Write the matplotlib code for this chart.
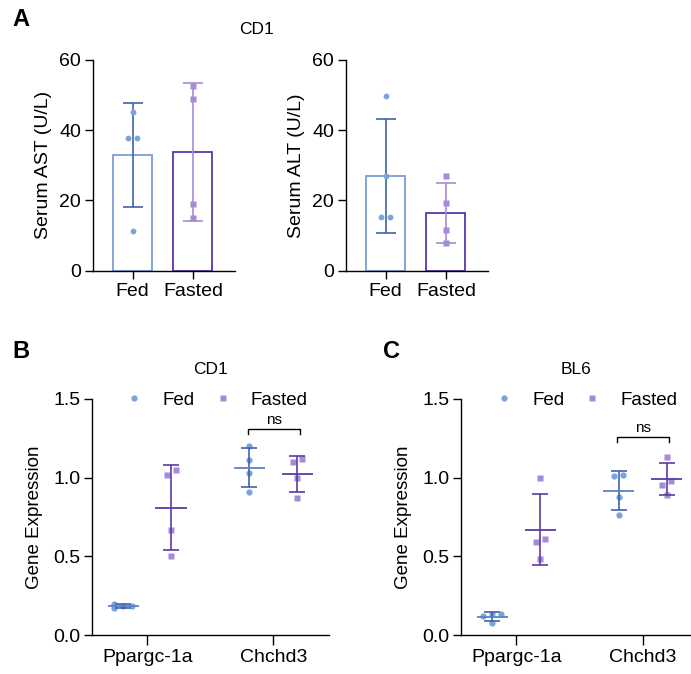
import numpy as np
import matplotlib
matplotlib.use('Agg')
import matplotlib.pyplot as plt
from matplotlib.lines import Line2D

plt.rcParams['font.family'] = ['Liberation Sans', 'DejaVu Sans']

# %% data
groups = ['Fed', 'Fasted']
ast_fed = [45.2, 37.7, 37.7, 11.3]
ast_fasted = [52.6, 48.9, 18.9, 15.0]
alt_fed = [49.8, 26.9, 15.4, 15.4]
alt_fasted = [26.9, 19.2, 11.5, 7.8]

genes = ['Ppargc-1a', 'Chchd3']
cd1_fed = [[0.17, 0.20, 0.185, 0.185], [1.20, 1.11, 1.03, 0.91]]
cd1_fasted = [[1.02, 1.05, 0.67, 0.50], [1.12, 1.10, 1.00, 0.87]]
bl6_fed = [[0.136, 0.121, 0.136, 0.074], [1.02, 1.01, 0.875, 0.76]]
bl6_fasted = [[1.00, 0.61, 0.59, 0.48], [1.13, 0.98, 0.955, 0.89]]
ns_y = {'CD1': 1.31, 'BL6': 1.26}

# colours
fed_pt = '#7aa3dc'
fed_line = '#3f63aa'
fed_mean = '#5b82bf'
fed_bar = '#7b9ed6'
fas_pt = '#a58bd8'
fas_line = '#5b3aa6'
fas_bar = '#5a36a8'

W, H = 691, 674
fig = plt.figure(figsize=(W / 100, H / 100), dpi=100)


def px_axes(l, t, r, b):
    return fig.add_axes([l / W, 1 - b / H, (r - l) / W, (b - t) / H])


def style(ax, fs_tick=14):
    for s in ['top', 'right']:
        ax.spines[s].set_visible(False)
    for s in ['left', 'bottom']:
        ax.spines[s].set_linewidth(1.0)
    ax.tick_params(axis='both', labelsize=fs_tick, width=1.0, length=5.5, pad=3)


def swarm(ax, x0, vals, tol=6, d=9):
    # spread points that sit on top of each other (max 3 columns)
    vals = np.asarray(vals, float)
    order = np.argsort(vals)
    ys = ax.transData.transform(np.c_[np.zeros(len(vals)), vals])[:, 1]
    xs = np.zeros(len(vals))
    grp = [order[0]]
    allg = []
    for i in order[1:]:
        if ys[i] - ys[grp[-1]] < tol:
            grp.append(i)
        else:
            allg.append(grp)
            grp = [i]
    allg.append(grp)
    for g in allg:
        n = min(len(g), 3)
        for k, i in enumerate(g):
            xs[i] = (k % 3 - (n - 1) / 2) * d
    px0 = ax.transData.transform((x0, 0))[0]
    inv = ax.transData.inverted()
    return np.array([inv.transform((px0 + dx, 0))[0] for dx in xs]), vals


def bar_panel(ax, fed, fasted, ylabel):
    ax.set_xlim(-0.66, 1.7)
    ax.set_ylim(0, 60)
    for i, (v, edge, ln, pc, mk) in enumerate([(fed, fed_bar, fed_line, fed_pt, 'o'),
                                               (fasted, fas_bar, fas_pt, fas_pt, 's')]):
        m = np.mean(v)
        sd = np.std(v, ddof=1)
        ax.bar(i, m, width=0.65, facecolor='white', edgecolor=edge, linewidth=1.3, zorder=1)
        ax.errorbar(i, m, yerr=sd, color=ln, capsize=7.5, elinewidth=1.2, capthick=1.2, zorder=2)
        xs, ys = swarm(ax, i, v)
        ax.plot(xs, ys, mk, color=pc, ms=4.2, mec='none', zorder=3, clip_on=False)
    ax.set_xticks([0, 1])
    ax.set_xticklabels(groups)
    ax.set_yticks([0, 20, 40, 60])
    ax.set_ylabel(ylabel, fontsize=14, labelpad=5)
    style(ax)


def gene_panel(ax, fed, fasted, title, xr, lx, nsy):
    ax.set_xlim(-0.438, xr)
    ax.set_ylim(0, 1.5)
    off = 0.19
    for j in range(len(genes)):
        for v, dx, ln, ml, pc, mk in [(fed[j], -off, fed_line, fed_mean, fed_pt, 'o'),
                                     (fasted[j], off, fas_line, fas_line, fas_pt, 's')]:
            x0 = j + dx
            m = np.mean(v)
            sd = np.std(v, ddof=1)
            xs, ys = swarm(ax, x0, v)
            ax.plot(xs, ys, mk, color=pc, ms=4.5, mec='none', zorder=2)
            ax.errorbar(x0, m, yerr=sd, fmt='none', ecolor=ln, capsize=5.5,
                        elinewidth=1.2, capthick=1.2, zorder=3)
            ax.hlines(m, x0 - 0.125, x0 + 0.125, color=ml, lw=1.3, zorder=3)
    # ns bracket on second gene
    x1, x2 = 1 - 0.205, 1 + 0.21
    h = 0.035
    ax.plot([x1, x1, x2, x2], [nsy - h, nsy, nsy, nsy - h], color='black', lw=1.0)
    ax.text((x1 + x2) / 2, nsy + 0.01, 'ns', ha='center', va='bottom', fontsize=11)
    ax.set_xticks(range(len(genes)))
    ax.set_xticklabels(genes)
    ax.set_yticks([0, 0.5, 1.0, 1.5])
    ax.set_yticklabels(['0.0', '0.5', '1.0', '1.5'])
    ax.set_ylabel('Gene Expression', fontsize=13.5, labelpad=7)
    style(ax)
    ax.tick_params(axis='x', length=7)
    hnd = [Line2D([], [], marker='o', ls='none', color=fed_pt, mec='none', ms=4.5),
           Line2D([], [], marker='s', ls='none', color=fas_pt, mec='none', ms=4.5)]
    ax.legend(hnd, groups, loc='center', bbox_to_anchor=(lx, 0.995), ncol=2, frameon=False,
              fontsize=13.5, handlelength=1.0, handletextpad=1.0, columnspacing=1.0,
              borderaxespad=0)
    ax.set_title(title, fontsize=12.5, pad=18)


# %% panel A
axA1 = px_axes(93, 60, 235, 270.7)
bar_panel(axA1, ast_fed, ast_fasted, 'Serum AST (U/L)')
axA2 = px_axes(346, 60, 488, 270.7)
bar_panel(axA2, alt_fed, alt_fasted, 'Serum ALT (U/L)')
fig.text(257 / W, 1 - 29 / H, 'CD1', ha='center', va='center', fontsize=12.5)

# %% panels B and C
axB = px_axes(92, 399, 329, 635)
gene_panel(axB, cd1_fed, cd1_fasted, 'CD1', 1.44, 0.525, ns_y['CD1'])
axC = px_axes(461, 399, 690, 635)
gene_panel(axC, bl6_fed, bl6_fasted, 'BL6', 1.375, 0.546, ns_y['BL6'])

for lab, x, y in [('A', 21, 20), ('B', 21, 351), ('C', 392, 351)]:
    fig.text(x / W, 1 - y / H, lab, ha='center', va='center', fontsize=17, fontweight='bold')

fig.savefig('out.png', dpi=100)
